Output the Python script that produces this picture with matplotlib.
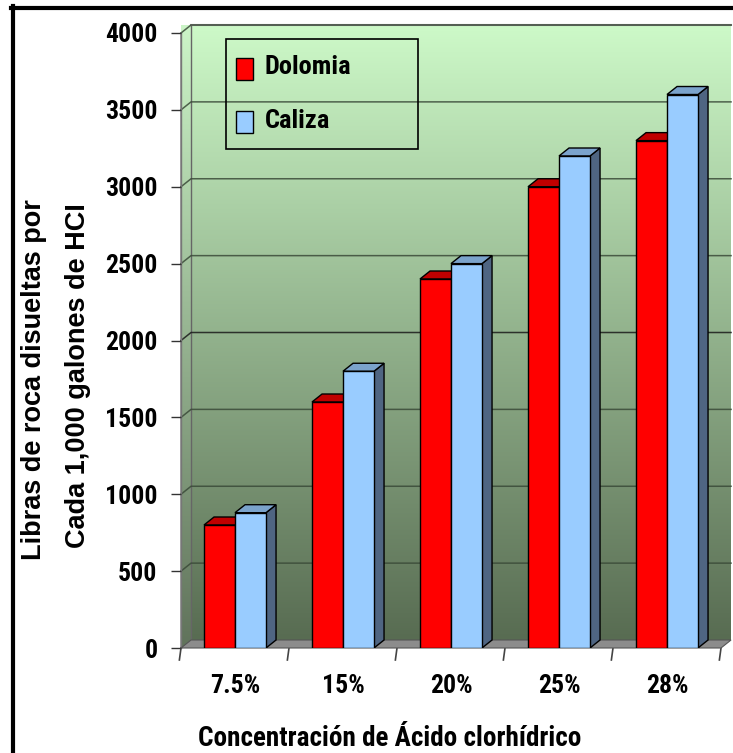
import numpy as np
import matplotlib
matplotlib.use("Agg")
import matplotlib.pyplot as plt
from matplotlib.patches import Rectangle, Polygon
from matplotlib.lines import Line2D

NARROW = ["Liberation Sans Narrow", "Roboto Condensed", "Liberation Sans", "DejaVu Sans"]
WIDE = ["Liberation Sans", "DejaVu Sans"]
plt.rcParams["font.family"] = NARROW
plt.rcParams["font.weight"] = "bold"

# ---- data ----
categories = ["7.5%", "15%", "20%", "25%", "28%"]
dolomia = [800, 1600, 2400, 3000, 3300]
caliza = [880, 1800, 2500, 3200, 3600]
yticks = [0, 500, 1000, 1500, 2000, 2500, 3000, 3500, 4000]

RED, RED_TOP, RED_SIDE = "#ff0000", "#c00000", "#a00000"
BLUE, BLUE_TOP, BLUE_SIDE = "#99ccff", "#7ba3cc", "#4f6582"
FLOOR = "#8c8c8c"

# 3d depth offset in data units (x: categories, y: value)
DX, DY = 0.093, 52
YMAX = 4000
N = len(categories)

W, H = 733, 753
fig = plt.figure(figsize=(W / 100, H / 100), dpi=100)
ax = fig.add_axes([181 / W, 105 / H, 540 / W, 615 / H])
ax.set_xlim(0, N)
ax.set_ylim(0, YMAX)
ax.patch.set_visible(False)
for s in ax.spines.values():
    s.set_visible(False)

# back wall gradient
top_c = np.array([205, 249, 200]) / 255
bot_c = np.array([88, 108, 82]) / 255
t = np.linspace(0, 1, 256)[:, None]
grad = (bot_c * (1 - t) + top_c * t)[:, None, :]
ax.imshow(grad, extent=(DX, N + DX, DY, YMAX + DY), origin="lower",
          aspect="auto", zorder=0, clip_on=False, interpolation="bilinear")
# side wall
side = Polygon([(0, 0), (DX, DY), (DX, YMAX + DY), (0, YMAX)], closed=True,
               facecolor="#a4c49e", edgecolor="#777777", lw=1, zorder=0.5, clip_on=False)
ax.add_patch(side)
sgrad = ax.imshow(grad * 0.92 + 0.06, extent=(0, DX, 0, YMAX + DY), origin="lower",
                  aspect="auto", zorder=0.6, clip_on=False, interpolation="bilinear")
sgrad.set_clip_path(side)
ax.plot([DX, DX], [DY, YMAX + DY], color="#666666", lw=1, zorder=1, clip_on=False)
ax.plot([DX, N + DX], [YMAX + DY, YMAX + DY], color="#888888", lw=1.5, zorder=1, clip_on=False)

# gridlines on side + back wall
for v in yticks[1:]:
    col = "#1a1a1a" if v == 2000 else "#3a4a38"
    ax.plot([0, DX, N + DX], [v, v + DY, v + DY], color=col, lw=1.1,
            alpha=0.85, zorder=1, clip_on=False)

# floor
ax.add_patch(Polygon([(0, 0), (N, 0), (N + DX, DY), (DX, DY)], closed=True,
                     facecolor=FLOOR, edgecolor="#555555", lw=0.8, zorder=1.5, clip_on=False))


def bar3d(x0, x1, v, front, topc, sidec, z):
    ax.add_patch(Polygon([(x1, 0), (x1 + DX, DY), (x1 + DX, v + DY), (x1, v)],
                         closed=True, facecolor=sidec, edgecolor="black", lw=1, zorder=z))
    ax.add_patch(Polygon([(x0, v), (x1, v), (x1 + DX, v + DY), (x0 + DX, v + DY)],
                         closed=True, facecolor=topc, edgecolor="black", lw=1, zorder=z))
    ax.add_patch(Rectangle((x0, 0), x1 - x0, v, facecolor=front,
                           edgecolor="black", lw=1, zorder=z + 0.1))


bw = 0.287
for i in range(N):
    c = i + 0.5
    bar3d(c - bw, c, dolomia[i], RED, RED_TOP, RED_SIDE, 2 + i)
    bar3d(c, c + bw, caliza[i], BLUE, BLUE_TOP, BLUE_SIDE, 2.5 + i)

# axes ticks
ax.set_yticks(yticks)
ax.set_yticklabels([str(v) for v in yticks], fontsize=18.5, fontweight="bold")
ax.tick_params(axis="y", length=7, width=1, color="#333333", pad=10)
ax.set_xticks([i + 0.5 for i in range(N)])
ax.set_xticklabels(categories, fontsize=18.5, fontweight="bold")
ax.tick_params(axis="x", length=0, pad=19)
for i in range(N + 1):
    ax.plot([i, i - 0.015], [0, -78], color="#444444", lw=1.2, clip_on=False, zorder=1)
ax.plot([0, 0], [0, YMAX], color="#777777", lw=1, zorder=1, clip_on=False)

# legend (manual box)
ax.add_patch(Rectangle((0.083, 0.812), 0.356, 0.178, transform=ax.transAxes,
                       facecolor="none", edgecolor="black", lw=1.2, zorder=10))
for yy, fc, lab in [(0.942, RED, "Dolomia"), (0.855, BLUE, "Caliza")]:
    ax.add_patch(Rectangle((0.102, yy - 0.018), 0.031, 0.036, transform=ax.transAxes,
                           facecolor=fc, edgecolor="black", lw=1, zorder=10))
    ax.text(0.155, yy + 0.002, lab, transform=ax.transAxes, fontsize=19,
            fontweight="bold", va="center", ha="left", zorder=10)

# axis titles
fig.text(390 / W, 1 - 739 / H, "Concentración de Ácido clorhídrico",
         ha="center", va="center", fontsize=19.5, fontweight="bold")
fig.text(34 / W, 1 - 380 / H, "Libras de roca disueltas por", rotation=90,
         ha="center", va="center", fontsize=19.5, fontweight="bold", family=WIDE)
fig.text(78 / W, 1 - 376 / H, "Cada 1,000 galones de HCI", rotation=90,
         ha="center", va="center", fontsize=19.5, fontweight="bold", family=WIDE)

# outer frame
fig.add_artist(Line2D([13 / W, 13 / W], [0, 1 - 6 / H], color="black", lw=3,
                      transform=fig.transFigure))
fig.add_artist(Line2D([11 / W, 1], [1 - 8 / H, 1 - 8 / H], color="black", lw=3,
                      transform=fig.transFigure))

fig.savefig("out.png", dpi=100)
